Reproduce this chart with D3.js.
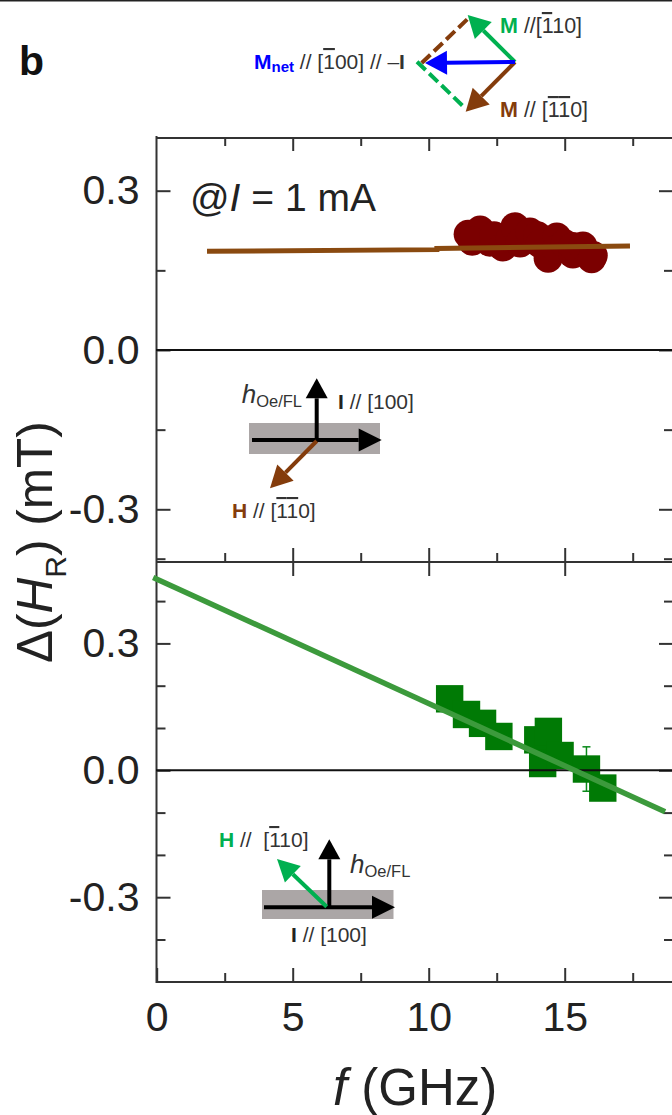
<!DOCTYPE html>
<html>
<head>
<meta charset="utf-8">
<script src="https://cdn.jsdelivr.net/npm/d3@7"></script>
<style>
    body { margin: 0; background: white; }
    svg { display: block; font-family: "Liberation Sans", Arial, sans-serif; }
    .bar { text-decoration: overline; }
</style>
</head>
<body>
<div class="main"></div>
<script>
// frequency axis
var xMajor = [0, 5, 10, 15];
var xMinor = [2.5, 7.5, 12.5, 17.5];

// upper panel, H // [-1-10]
var topF = [11.45, 11.89, 12.25, 11.6, 12.4, 12.73, 13.0, 13.17, 13.36, 13.72, 14.0, 14.1, 14.39, 14.71, 14.7, 15.0, 15.3, 15.3, 15.67, 15.99, 16.05];
var topV = [0.218, 0.226, 0.203, 0.205, 0.215, 0.194, 0.210, 0.232, 0.2015, 0.222, 0.215, 0.200, 0.173, 0.213, 0.190, 0.200, 0.181, 0.195, 0.196, 0.172, 0.178];
var topFitF = [1.85, 10.3, 10.3, 17.4];
var topFitV = [0.186, 0.189, 0.191, 0.196];
var topMajor = [0.3, 0, -0.3];
var topMinor = [0.15, -0.15, -0.393];

// lower panel, H // [-110]
var botF = [10.77, 11.39, 11.98, 12.58, 14.01, 14.4, 14.19, 14.83, 15.8, 16.4];
var botV = [0.169, 0.132, 0.111, 0.080, 0.072, 0.092, 0.016, 0.035, 0.003, -0.042];
var botErr = [0, 0, 0, 0, 0, 0, 0, 0, 0.0525, 0];
var botFitF = [-0.13, 18.69];
var botFitV = [0.456, -0.098];
var botMajor = [0.3, 0, -0.3];
var botMinor = [0.4, 0.2, 0.1, -0.1, -0.2, -0.4];

var yLabels = ["0.3", "0.0", "-0.3"];

var width = 672;
var height = 1115;

var AXIS = "#333";
var GREEN = "#00b050";
var BROWN = "#843c0c";

var svg = d3.select("div.main")
    .append("svg")
    .attr("width", width)
    .attr("height", height);

svg.append("rect").attr("width", width).attr("height", 1.5).attr("fill", "#222");

var x = d3.scaleLinear().domain([0, 19]).range([156.7, 673.5]);
var yTop = d3.scaleLinear().domain([-0.4, 0.4]).range([562.4, 137.6]);
var yBot = d3.scaleLinear().domain([-0.5, 0.5]).range([981.8, 558.8]);

function styleAxis(g) {
    g.selectAll("line").attr("stroke", AXIS).attr("stroke-width", 2);
    g.select(".domain").remove();
    g.selectAll("text").attr("font-size", 41).attr("fill", "#222");
}

function fmt(d) { return d == 0 ? yLabels[1] : (d > 0 ? yLabels[0] : yLabels[2]); }

//-------------------------------------frame----------------------------------------------
function frame(y, major, minor) {
    svg.append("g").attr("transform", "translate(156.5,0)")
        .call(d3.axisLeft(y).tickValues(major).tickSize(-14).tickPadding(17).tickFormat(fmt))
        .call(styleAxis);
    svg.append("g").attr("transform", "translate(156.5,0)")
        .call(d3.axisLeft(y).tickValues(minor).tickSize(-9).tickFormat(""))
        .call(styleAxis);
    svg.append("g").attr("transform", "translate(672,0)")
        .call(d3.axisRight(y).tickValues(major).tickSize(-13).tickFormat(""))
        .call(styleAxis);
    svg.append("g").attr("transform", "translate(672,0)")
        .call(d3.axisRight(y).tickValues(minor).tickSize(-8).tickFormat(""))
        .call(styleAxis);
}
frame(yTop, topMajor, topMinor);
frame(yBot, botMajor, botMinor);

// top axis
svg.append("g").attr("transform", "translate(0,138)")
    .call(d3.axisTop(x).tickValues(xMajor.slice(1)).tickSize(-13).tickFormat(""))
    .call(styleAxis);
svg.append("g").attr("transform", "translate(0,138)")
    .call(d3.axisTop(x).tickValues(xMinor).tickSize(-8).tickFormat(""))
    .call(styleAxis);
// middle axis, major ticks cross it
svg.append("g").attr("transform", "translate(0,562)")
    .call(d3.axisBottom(x).tickValues(xMajor.slice(1)).tickSize(14).tickFormat(""))
    .call(styleAxis);
svg.append("g").attr("transform", "translate(0,562)")
    .call(d3.axisTop(x).tickValues(xMajor.slice(1)).tickSize(14).tickFormat(""))
    .call(styleAxis);
svg.append("g").attr("transform", "translate(0,562)")
    .call(d3.axisTop(x).tickValues(xMinor).tickSize(9).tickFormat(""))
    .call(styleAxis);
// bottom axis
svg.append("g").attr("transform", "translate(0,982)")
    .call(d3.axisBottom(x).tickValues(xMajor).tickSize(-14).tickPadding(20).tickFormat(d3.format("d")))
    .call(styleAxis);
svg.append("g").attr("transform", "translate(0,982)")
    .call(d3.axisBottom(x).tickValues(xMinor).tickSize(-9).tickFormat(""))
    .call(styleAxis);

[138, 562, 982].forEach(function (p) {
    svg.append("line").attr("x1", 156).attr("x2", width).attr("y1", p).attr("y2", p)
        .attr("stroke", AXIS).attr("stroke-width", 2);
});
svg.append("line").attr("x1", 156.5).attr("x2", 156.5).attr("y1", 136).attr("y2", 983)
    .attr("stroke", AXIS).attr("stroke-width", 2);

//-------------------------------------data----------------------------------------------
svg.append("g").selectAll("circle")
    .data(topF)
    .enter()
    .append("circle")
    .attr("cx", function (d) { return x(d) })
    .attr("cy", function (d, i) { return yTop(topV[i]) })
    .attr("r", 14.5)
    .attr("fill", "#7b0000");

var line = d3.line();

svg.append("line").attr("x1", 156).attr("x2", width).attr("y1", yTop(0)).attr("y2", yTop(0))
    .attr("stroke", "#111").attr("stroke-width", 2);

svg.append("path")
    .attr("d", line(topFitF.map(function (d, i) { return [x(d), yTop(topFitV[i])] })))
    .attr("fill", "none").attr("stroke", "#8a4a10").attr("stroke-width", 5);

// error bars sit below the squares
var errG = svg.append("g").attr("stroke", "#0a8a1a").attr("stroke-width", 1.5);
botF.forEach(function (f, i) {
    if (!botErr[i]) return;
    var a = yBot(botV[i] + botErr[i]), b = yBot(botV[i] - botErr[i]), c = x(f);
    errG.append("line").attr("x1", c).attr("x2", c).attr("y1", a).attr("y2", b);
    errG.append("line").attr("x1", c - 4).attr("x2", c + 4).attr("y1", a).attr("y2", a);
    errG.append("line").attr("x1", c - 4).attr("x2", c + 4).attr("y1", b).attr("y2", b);
});

svg.append("g").selectAll("rect")
    .data(botF)
    .enter()
    .append("rect")
    .attr("x", function (d) { return x(d) - 13.7 })
    .attr("y", function (d, i) { return yBot(botV[i]) - 13.7 })
    .attr("width", 27.4)
    .attr("height", 27.4)
    .attr("fill", "#007a05");

svg.append("line").attr("x1", 156).attr("x2", width).attr("y1", yBot(0)).attr("y2", yBot(0))
    .attr("stroke", "#111").attr("stroke-width", 2);

svg.append("path")
    .attr("d", line(botFitF.map(function (d, i) { return [x(d), yBot(botFitV[i])] })))
    .attr("fill", "none").attr("stroke", "#3c9a3c").attr("stroke-width", 5.5);

//-------------------------------------labels----------------------------------------------
var xl = svg.append("text").attr("x", 333).attr("y", 1105).attr("font-size", 51).attr("fill", "#222");
xl.append("tspan").attr("font-style", "italic").text("f");
xl.append("tspan").text(" (GHz)");

var yl = svg.append("text").attr("transform", "translate(52,663) rotate(-90)")
    .attr("font-size", 49.5).attr("fill", "#222");
yl.append("tspan").text("\u0394(");
yl.append("tspan").attr("font-style", "italic").text("H");
yl.append("tspan").attr("font-size", 30).attr("dy", 14).text("R");
yl.append("tspan").attr("dy", -14).text(") (mT)");

var at = svg.append("text").attr("x", 190).attr("y", 211).attr("font-size", 39).attr("fill", "#222");
at.append("tspan").text("@");
at.append("tspan").attr("font-style", "italic").text("I");
at.append("tspan").text(" = 1 mA");

svg.append("text").attr("x", 19).attr("y", 75).attr("font-size", 41).attr("font-weight", "bold").attr("fill", "#111").text("b");

//-------------------------------------insets----------------------------------------------
function arrow(x1, y1, x2, y2, color, w, hl, hw) {
    var dx = x2 - x1, dy = y2 - y1, n = Math.sqrt(dx * dx + dy * dy);
    var ux = dx / n, uy = dy / n;
    var bx = x2 - ux * hl, by = y2 - uy * hl;
    svg.append("line").attr("x1", x1).attr("y1", y1).attr("x2", bx).attr("y2", by)
        .attr("stroke", color).attr("stroke-width", w);
    svg.append("path")
        .attr("d", line([[x2, y2], [bx - uy * hw / 2, by + ux * hw / 2], [bx + uy * hw / 2, by - ux * hw / 2]]) + "Z")
        .attr("fill", color);
}

// parts: [text, style], style b = bold colour, o = overline
function label(px, py, size, parts) {
    var t = svg.append("text").attr("x", px).attr("y", py).attr("font-size", size)
        .attr("fill", "#333").attr("xml:space", "preserve").style("white-space", "pre");
    parts.forEach(function (p) {
        var s = t.append("tspan").text(p[0]);
        if (p[1] == "o") s.attr("class", "bar");
        else if (p[1]) s.attr("font-weight", "bold").attr("fill", p[1]);
    });
    return t;
}

svg.append("line").attr("x1", 421.7).attr("y1", 63).attr("x2", 470).attr("y2", 16.7)
    .attr("stroke", BROWN).attr("stroke-width", 4).attr("stroke-dasharray", "12,5");
svg.append("line").attr("x1", 417).attr("y1", 61.7).attr("x2", 465).attr("y2", 108)
    .attr("stroke", GREEN).attr("stroke-width", 4).attr("stroke-dasharray", "12,5");
arrow(515, 62, 467.7, 15, GREEN, 4, 22, 24);
arrow(515, 62, 465.7, 111.7, BROWN, 4, 22, 24);
arrow(515, 62, 425, 63, "#0000ff", 4, 22, 24);

label(500, 33, 21.5, [["M", GREEN], [" //[", ""], ["1", "o"], ["10]", ""]]);
label(500, 117, 21.5, [["M", BROWN], [" // [", ""], ["1", "o"], ["1", "o"], ["0]", ""]]);
var mn = label(254, 69, 21, [["M", "#0000ff"]]);
mn.append("tspan").attr("font-size", 15).attr("dy", 3).attr("font-weight", "bold").attr("fill", "#0000ff").text("net");
mn.append("tspan").attr("dy", -3).text(" // [");
mn.append("tspan").attr("class", "bar").text("1");
mn.append("tspan").text("00] // \u2013");
mn.append("tspan").attr("font-weight", "bold").text("I");

function hOe(px, py) {
    var t = svg.append("text").attr("x", px).attr("y", py).attr("font-size", 26).attr("fill", "#333");
    t.append("tspan").attr("font-style", "italic").text("h");
    t.append("tspan").attr("font-size", 16.5).attr("dy", 4).text("Oe/FL");
}

function stripe(rx, ry, rw, rh) {
    svg.append("rect").attr("x", rx).attr("y", ry).attr("width", rw).attr("height", rh).attr("fill", "#aba6a6");
}

stripe(249, 423, 131, 31);
arrow(252, 440, 381.7, 440, "#000", 4, 23, 23);
arrow(316.7, 441, 316.7, 378.3, "#000", 4, 20, 22);
arrow(316.7, 441, 270, 488.3, BROWN, 4, 22, 23);
hOe(241.7, 403);
label(338, 409, 21, [["I", "#222"], [" // [100]", ""]]);
label(232, 518, 21, [["H", BROWN], [" // [", ""], ["1", "o"], ["1", "o"], ["0]", ""]]);

stripe(262, 890, 131.5, 29);
arrow(264, 907.3, 395, 907.3, "#000", 4, 23, 23);
arrow(329.3, 908, 329.3, 839.3, "#000", 4, 20, 22);
arrow(326.7, 906.7, 277, 859, GREEN, 4, 22, 23);
hOe(350, 873);
label(291, 941.6, 21, [["I", "#222"], [" // [100]", ""]]);
label(219, 847, 21, [["H", GREEN], [" //  [", ""], ["1", "o"], ["10]", ""]]);
</script>
</body>
</html>
